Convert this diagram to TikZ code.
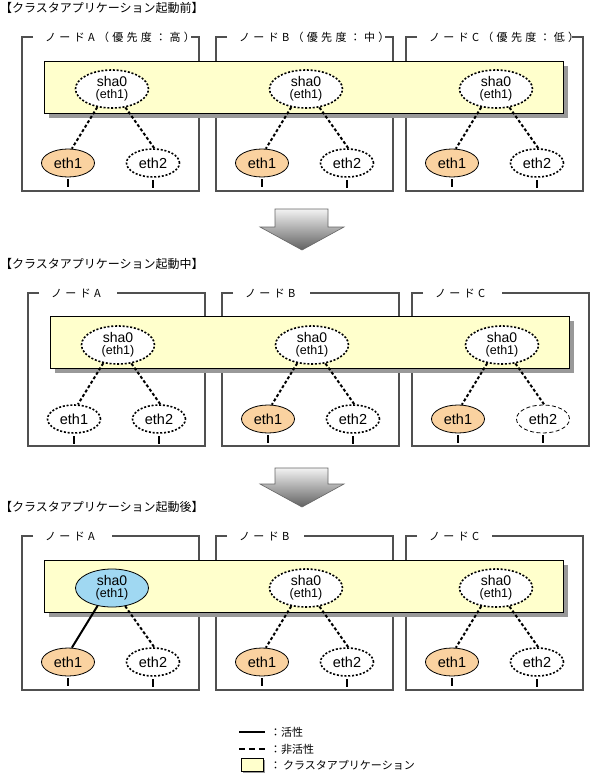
\documentclass[tikz,border=0pt]{standalone}
\usepackage{fontspec}
\setmainfont{Liberation Sans}
\newfontfamily\jp{Noto Sans CJK JP}
\newfontfamily\jpw[LetterSpace=30]{Noto Sans CJK JP}
\usetikzlibrary{shapes.geometric}
\definecolor{appyellow}{HTML}{FFFFCC}
\definecolor{ethorange}{HTML}{FAD2A0}
\definecolor{shablue}{HTML}{A0D8F2}
\definecolor{framegray}{HTML}{505050}
\definecolor{shadowgray}{HTML}{999999}
\tikzset{
 frame/.style={draw=framegray, line width=1.3pt},
 shabase/.style={ellipse, minimum width=73pt, minimum height=38pt, inner sep=0pt, align=center, font=\fontsize{14}{12}\selectfont},
 ethbase/.style={ellipse, minimum width=53pt, minimum height=28pt, inner sep=0pt, font=\fontsize{14.5}{15}\selectfont},
 inact/.style={draw=black, fill=white, line width=1.6pt, dash pattern=on 2pt off 1.8pt},
 thininact/.style={draw=black, fill=white, line width=0.8pt, dash pattern=on 4pt off 2.5pt},
 acteth/.style={draw=black, fill=ethorange, line width=0.8pt},
 actsha/.style={draw=black, fill=shablue, line width=0.8pt},
 linkoff/.style={line width=2pt, dash pattern=on 3pt off 2.2pt},
 linkon/.style={line width=2pt},
 ticked/.style={line width=1.5pt},
 title/.style={anchor=west, font=\jp\fontsize{12}{12}\selectfont, inner sep=0pt},
 nlabel/.style={anchor=west, font=\jpw\fontsize{11}{11}\selectfont, inner sep=0pt},
 legtext/.style={anchor=west, font=\jp\fontsize{11}{11}\selectfont, inner sep=0pt},
 app/.style={draw=black, line width=0.8pt, fill=appyellow},
 appshadow/.style={fill=shadowgray},
 bigarrow/.style={draw=black!60, line width=0.6pt, top color=black!5, bottom color=black!62},
}
% #1 name, #2 left, #3 top, #4 bottom, #5 right segment start, #6 label
\newcommand{\nodeframe}[6]{%
  \draw[frame] ({#2+11},#3) -- (#2,#3) -- (#2,#4) -- ({#2+177},#4) -- ({#2+177},#3) -- ({#2+#5},#3);
  \node[nlabel] (#1) at ({#2+23},#3) {#6};
}
% #1 prefix, #2 left, #3 dy, #4 sha style, #5 eth1 style, #6 eth2 style, #7 link1 style
\newcommand{\nodeunit}[7]{%
  \node[shabase,#4] (#1s) at ({#2+90},{#3+89}) {sha0\\\fontsize{12.5}{12}\selectfont(eth1)};
  \node[ethbase,#5] (#1a) at ({#2+46},{#3+163}) {eth1};
  \node[ethbase,#6] (#1b) at ({#2+131},{#3+163}) {eth2};
  \draw[#7] (#1s.231) -- (#1a.75);
  \draw[linkoff] (#1s.306) -- (#1b.85);
  \draw[ticked] ([yshift=-2pt]#1a.south) -- ++(0,8);
  \draw[ticked] ([yshift=-2pt]#1b.south) -- ++(0,8);
}
\begin{document}
\begin{tikzpicture}[x=1pt,y=-1pt]
\useasboundingbox[fill=white] (0,0) rectangle (590,776);

% ---------- section 1 ----------
\node[title] (t1) at (0,8) {【クラスタアプリケーション起動前】};
\nodeframe{f1a}{22}{37}{191}{169}{ノードA（優先度：高）}
\nodeframe{f1b}{216}{37}{191}{169}{ノードB（優先度：中）}
\nodeframe{f1c}{406}{37}{191}{166}{ノードC（優先度：低）}
\fill[appshadow] (49,66) rectangle (568,118);
\draw[app] (44,61) rectangle (563,113);
\nodeunit{p1a}{22}{0}{inact}{acteth}{inact}{linkoff}
\nodeunit{p1b}{216}{0}{inact}{acteth}{inact}{linkoff}
\nodeunit{p1c}{406}{0}{inact}{acteth}{inact}{linkoff}

\shadedraw[bigarrow] (275,209) -- (328,209) -- (328,227) -- (344,227) -- (302,250) -- (260,227) -- (275,227) -- cycle;

% ---------- section 2 ----------
\node[title] (t2) at (0,264) {【クラスタアプリケーション起動中】};
\nodeframe{f2a}{28}{293}{446}{89}{ノードA}
\nodeframe{f2b}{222}{293}{446}{88}{ノードB}
\nodeframe{f2c}{412}{293}{446}{90}{ノードC}
\fill[appshadow] (55,321) rectangle (574,373);
\draw[app] (50,316) rectangle (569,368);
\nodeunit{p2a}{28}{256}{inact}{inact}{inact}{linkoff}
\nodeunit{p2b}{222}{256}{inact}{acteth}{inact}{linkoff}
\nodeunit{p2c}{412}{256}{inact}{acteth}{thininact}{linkoff}

\shadedraw[bigarrow] (275,468) -- (328,468) -- (328,484) -- (344,484) -- (302,507) -- (260,484) -- (275,484) -- cycle;

% ---------- section 3 ----------
\node[title] (t3) at (0,507) {【クラスタアプリケーション起動後】};
\nodeframe{f3a}{22}{536}{690}{90}{ノードA}
\nodeframe{f3b}{216}{536}{690}{88}{ノードB}
\nodeframe{f3c}{406}{536}{690}{86}{ノードC}
\fill[appshadow] (49,565) rectangle (568,617);
\draw[app] (44,560) rectangle (563,612);
\nodeunit{p3a}{22}{499}{actsha}{acteth}{inact}{linkon}
\nodeunit{p3b}{216}{499}{inact}{acteth}{inact}{linkoff}
\nodeunit{p3c}{406}{499}{inact}{acteth}{inact}{linkoff}

% ---------- legend ----------
\draw[linkon] (239,732) -- (265,732);
\draw[line width=2pt, dash pattern=on 6pt off 4pt] (239,749) -- (265,749);
\fill[appshadow] (243,760) rectangle (265,773);
\draw[app] (241,758) rectangle (263,771);
\node[legtext] (l1) at (270,732) {：活性};
\node[legtext] (l2) at (270,749) {：非活性};
\node[legtext] (l3) at (270,765) {：\hspace{2pt}クラスタアプリケーション};
\end{tikzpicture}
\end{document}
